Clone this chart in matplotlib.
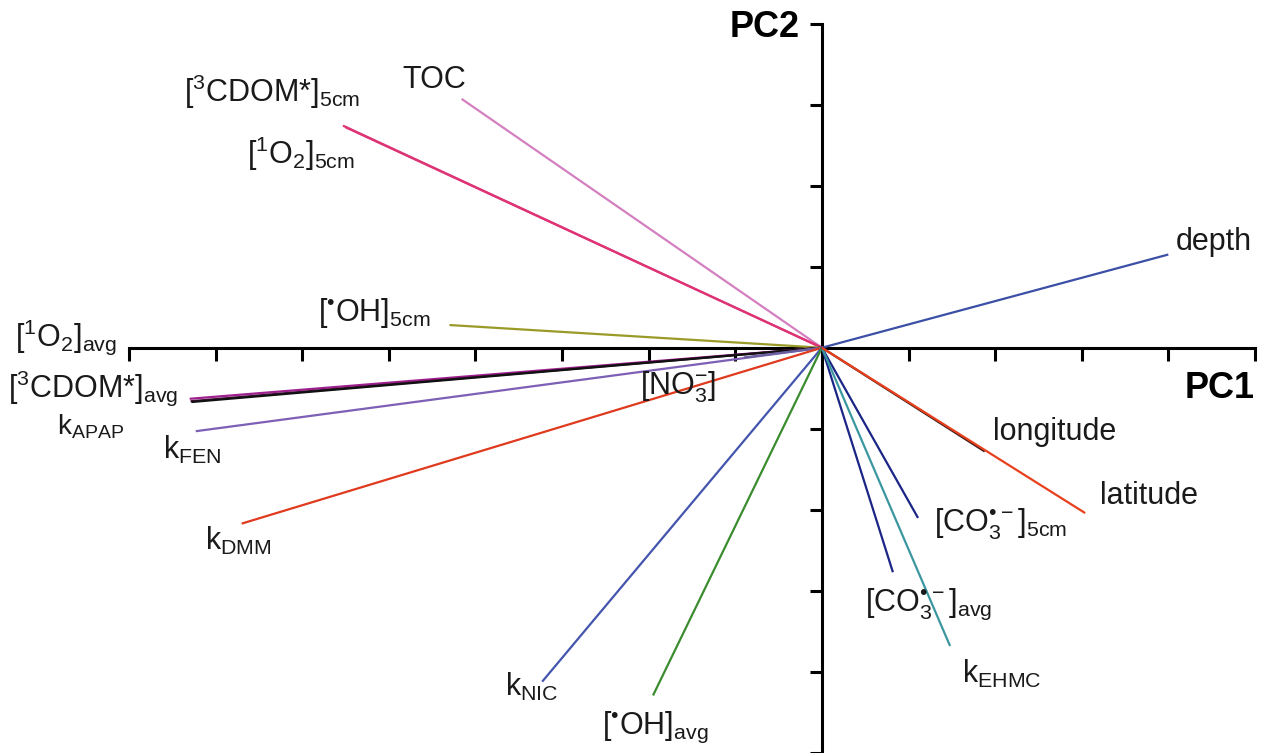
import matplotlib
matplotlib.use("Agg")
import matplotlib.pyplot as plt

plt.rcParams['font.family'] = ['Liberation Sans', 'DejaVu Sans']
plt.rcParams['mathtext.fontset'] = 'custom'
plt.rcParams['mathtext.rm'] = 'Liberation Sans'
plt.rcParams['mathtext.default'] = 'regular'

# loadings (PC1, PC2) in tick units
names = ['depth', 'TOC', 'CDOM5', 'O2_5', 'OH5', 'O2avg', 'CDOMavg', 'kAPAP',
         'kFEN', 'NO3', 'kDMM', 'kNIC', 'OHavg', 'CO3_5', 'CO3avg', 'kEHMC',
         'longitude', 'latitude']
pc1 = [4.00, -4.16, -5.53, -5.50, -4.30, -7.30, -7.29, -7.28,
       -7.23, -0.90, -6.70, -3.23, -1.95, 1.11, 0.82, 1.48,
       1.88, 3.04]
pc2 = [1.15, 3.07, 2.74, 2.72, 0.28, -0.63, -0.66, -0.67,
       -1.03, -0.12, -2.17, -4.12, -4.29, -2.10, -2.77, -3.68,
       -1.28, -2.04]
colors = ['#3c4fa6', '#d47fbf', '#de3476', '#de3476', '#9a9a28', '#a0208f',
          '#4a1040', '#111111', '#7d5fb5', '#6b5fa0', '#e03a1e', '#4355ad',
          '#3a8c2e', '#1b2585', '#1b2585', '#3a979f', '#3a1a1a', '#e8401c']

labels = {
    'depth': r'depth',
    'TOC': r'TOC',
    'CDOM5': r'$[^{3}CDOM{*}]_{5cm}$',
    'O2_5': r'$[^{1}O_{2}]_{5cm}$',
    'OH5': r'$[^{•}OH]_{5cm}$',
    'O2avg': r'$[^{1}O_{2}]_{avg}$',
    'CDOMavg': r'$[^{3}CDOM{*}]_{avg}$',
    'kAPAP': r'$k_{APAP}$',
    'kFEN': r'$k_{FEN}$',
    'NO3': r'$[NO_{3}^{-}]$',
    'kDMM': r'$k_{DMM}$',
    'kNIC': r'$k_{NIC}$',
    'OHavg': r'$[^{•}OH]_{avg}$',
    'CO3_5': r'$[CO_{3}^{•-}]_{5cm}$',
    'CO3avg': r'$[CO_{3}^{•-}]_{avg}$',
    'kEHMC': r'$k_{EHMC}$',
    'longitude': r'longitude',
    'latitude': r'latitude',
}
# label anchor (left, baseline) in data units
label_pos = {
    'depth': (4.09, 1.20), 'TOC': (-4.84, 3.21), 'CDOM5': (-7.37, 3.03),
    'O2_5': (-6.64, 2.27), 'OH5': (-5.82, 0.33), 'O2avg': (-9.32, 0.02),
    'CDOMavg': (-9.40, -0.61), 'kAPAP': (-8.83, -1.07), 'kFEN': (-7.61, -1.37),
    'NO3': (-2.10, -0.58), 'kDMM': (-7.12, -2.49), 'kNIC': (-3.66, -4.29),
    'OHavg': (-2.54, -4.76), 'CO3_5': (1.30, -2.27), 'CO3avg': (0.50, -3.25),
    'kEHMC': (1.62, -4.13), 'longitude': (1.97, -1.14), 'latitude': (3.21, -1.93),
}

fig = plt.figure(figsize=(12.61, 7.53), dpi=100)
ax = fig.add_axes([0, 0, 1, 1])
ax.set_xlim(-9.49, 5.07)
ax.set_ylim(-4.94, 4.29)

for n, x, y, c in zip(names, pc1, pc2, colors):
    ax.plot([0, x], [0, y], color=c, lw=1.6, solid_capstyle='butt')

for n in names:
    lx, ly = label_pos[n]
    fs = 20 if n == 'kAPAP' else 22
    ax.text(lx, ly, labels[n], fontsize=fs, ha='left', va='baseline', color='#1a1a1a')

for s in ['top', 'right']:
    ax.spines[s].set_visible(False)
ax.spines['left'].set_position(('data', 0))
ax.spines['bottom'].set_position(('data', 0))
ax.spines['bottom'].set_bounds(-8, 5)
ax.spines['left'].set_bounds(-5, 4)
for s in ['left', 'bottom']:
    ax.spines[s].set_linewidth(2.2)
    ax.spines[s].set_zorder(1)
ax.set_xticks(range(-8, 6))
ax.set_yticks(range(-5, 5))
ax.tick_params(direction='out', length=9, width=2.2, labelleft=False, labelbottom=False)

ax.text(-0.25, 3.95, 'PC2', fontsize=26, fontweight='bold', ha='right', va='center')
ax.text(5.0, -0.5, 'PC1', fontsize=26, fontweight='bold', ha='right', va='center')

fig.savefig('out.png', dpi=100, facecolor='white')
